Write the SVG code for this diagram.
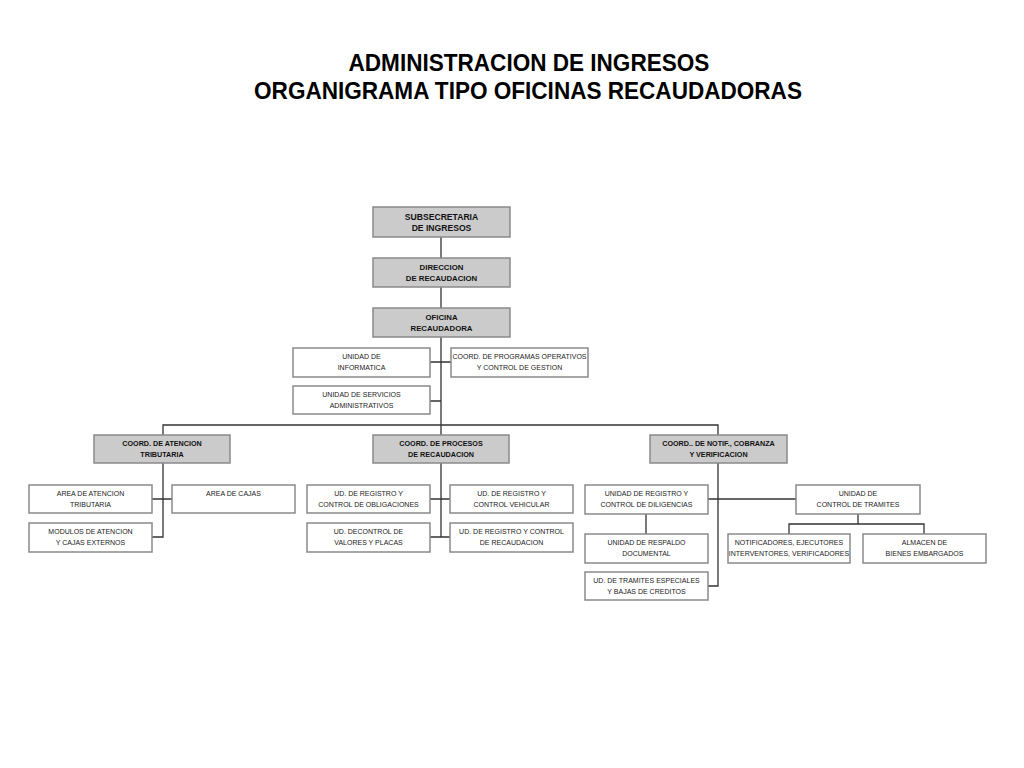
<svg xmlns="http://www.w3.org/2000/svg" width="1024" height="768" viewBox="0 0 1024 768">
<style>
.g{fill:#cbcbcb;stroke:#8a8a8a;stroke-width:1.5}
.w{fill:#ffffff;stroke:#8a8a8a;stroke-width:1.5}
.tb{font-family:"Liberation Sans",Arial,sans-serif;font-weight:bold;font-size:7.2px;fill:#111;text-anchor:middle}
.tr{font-family:"Liberation Sans",Arial,sans-serif;font-size:7px;fill:#222;text-anchor:middle}
.title{font-family:"Liberation Sans",Arial,sans-serif;font-weight:bold;font-size:24px;fill:#000;text-anchor:middle}
.c{fill:none;stroke:#333;stroke-width:1.3}
</style>
<rect width="1024" height="768" fill="#ffffff"/>
<g id="title" transform="translate(528 0) scale(0.94 1)">
<text class="title" x="1" y="71">ADMINISTRACION DE INGRESOS</text>
<text class="title" x="0" y="99">ORGANIGRAMA TIPO OFICINAS RECAUDADORAS</text>
</g>
<g id="connectors">
<path class="c" d="M441 237V258M441 287V308M441 337V425"/>
<path class="c" d="M430 362H451M430 401H441"/>
<path class="c" d="M163 435V425H718V435M441 425V435"/>
<path class="c" d="M163 463V537H152M152 499H172"/>
<path class="c" d="M441 463V537M430 499H450M430 537H450"/>
<path class="c" d="M718 463V586H708M708 499H796M646 514V534"/>
<path class="c" d="M858 514V524M789 534V524H924V534"/>
</g>
<g id="subsecretaria"><rect class="g" x="373" y="207" width="137" height="30"/><text class="tb" style="font-size:8.6px" x="441.5" y="219.5">SUBSECRETARIA</text><text class="tb" style="font-size:8.6px" x="441.5" y="231">DE INGRESOS</text></g>
<g id="direccion"><rect class="g" x="373" y="258" width="137" height="29"/><text class="tb" style="font-size:7.8px" x="441.5" y="269.5">DIRECCION</text><text class="tb" style="font-size:7.8px" x="441.5" y="280.5">DE RECAUDACION</text></g>
<g id="oficina"><rect class="g" x="373" y="308" width="137" height="29"/><text class="tb" style="font-size:7.8px" x="441.5" y="319.5">OFICINA</text><text class="tb" style="font-size:7.8px" x="441.5" y="330.5">RECAUDADORA</text></g>
<g id="informatica"><rect class="w" x="293" y="348" width="137" height="29"/><text class="tr" x="361.5" y="359">UNIDAD DE</text><text class="tr" x="361.5" y="370">INFORMATICA</text></g>
<g id="programas"><rect class="w" x="451" y="348" width="137" height="29"/><text class="tr" x="519.5" y="359">COORD. DE PROGRAMAS OPERATIVOS</text><text class="tr" x="519.5" y="370">Y CONTROL DE GESTION</text></g>
<g id="servicios"><rect class="w" x="293" y="386" width="137" height="28"/><text class="tr" x="361.5" y="397">UNIDAD DE SERVICIOS</text><text class="tr" x="361.5" y="408">ADMINISTRATIVOS</text></g>
<g id="coord-atencion"><rect class="g" x="94" y="435" width="136" height="28"/><text class="tb" x="162" y="446">COORD. DE ATENCION</text><text class="tb" x="162" y="457">TRIBUTARIA</text></g>
<g id="coord-procesos"><rect class="g" x="373" y="435" width="136" height="28"/><text class="tb" x="441" y="446">COORD. DE PROCESOS</text><text class="tb" x="441" y="457">DE RECAUDACION</text></g>
<g id="coord-notif"><rect class="g" x="650" y="435" width="137" height="28"/><text class="tb" x="718.5" y="446">COORD.. DE NOTIF., COBRANZA</text><text class="tb" x="718.5" y="457">Y VERIFICACION</text></g>
<g id="area-atencion"><rect class="w" x="29" y="485" width="123" height="28"/><text class="tr" x="90.5" y="496">AREA DE ATENCION</text><text class="tr" x="90.5" y="507">TRIBUTARIA</text></g>
<g id="area-cajas"><rect class="w" x="172" y="485" width="123" height="28"/><text class="tr" x="233.5" y="496">AREA DE CAJAS</text></g>
<g id="modulos"><rect class="w" x="29" y="523" width="123" height="29"/><text class="tr" x="90.5" y="534">MODULOS DE ATENCION</text><text class="tr" x="90.5" y="545">Y CAJAS EXTERNOS</text></g>
<g id="obligaciones"><rect class="w" x="307" y="485" width="123" height="28"/><text class="tr" x="368.5" y="496">UD. DE REGISTRO Y</text><text class="tr" x="368.5" y="507">CONTROL DE OBLIGACIONES</text></g>
<g id="vehicular"><rect class="w" x="450" y="485" width="123" height="28"/><text class="tr" x="511.5" y="496">UD. DE REGISTRO Y</text><text class="tr" x="511.5" y="507">CONTROL VEHICULAR</text></g>
<g id="valores"><rect class="w" x="307" y="523" width="123" height="29"/><text class="tr" x="368.5" y="534">UD. DECONTROL DE</text><text class="tr" x="368.5" y="545">VALORES Y PLACAS</text></g>
<g id="recaudacion"><rect class="w" x="450" y="523" width="123" height="29"/><text class="tr" x="511.5" y="534">UD. DE REGISTRO Y CONTROL</text><text class="tr" x="511.5" y="545">DE RECAUDACION</text></g>
<g id="diligencias"><rect class="w" x="585" y="485" width="123" height="29"/><text class="tr" x="646.5" y="496">UNIDAD DE REGISTRO Y</text><text class="tr" x="646.5" y="507">CONTROL DE DILIGENCIAS</text></g>
<g id="tramites"><rect class="w" x="796" y="485" width="124" height="29"/><text class="tr" x="858" y="496">UNIDAD DE</text><text class="tr" x="858" y="507">CONTROL DE TRAMITES</text></g>
<g id="respaldo"><rect class="w" x="585" y="534" width="123" height="29"/><text class="tr" x="646.5" y="545">UNIDAD DE RESPALDO</text><text class="tr" x="646.5" y="556">DOCUMENTAL</text></g>
<g id="especiales"><rect class="w" x="585" y="572" width="123" height="28"/><text class="tr" x="646.5" y="583">UD. DE TRAMITES ESPECIALES</text><text class="tr" x="646.5" y="594">Y BAJAS DE CREDITOS</text></g>
<g id="notificadores"><rect class="w" x="728" y="534" width="122" height="29"/><text class="tr" x="789" y="545">NOTIFICADORES, EJECUTORES</text><text class="tr" x="789" y="556">INTERVENTORES, VERIFICADORES</text></g>
<g id="almacen"><rect class="w" x="863" y="534" width="123" height="29"/><text class="tr" x="924.5" y="545">ALMACEN DE</text><text class="tr" x="924.5" y="556">BIENES EMBARGADOS</text></g>
</svg>
